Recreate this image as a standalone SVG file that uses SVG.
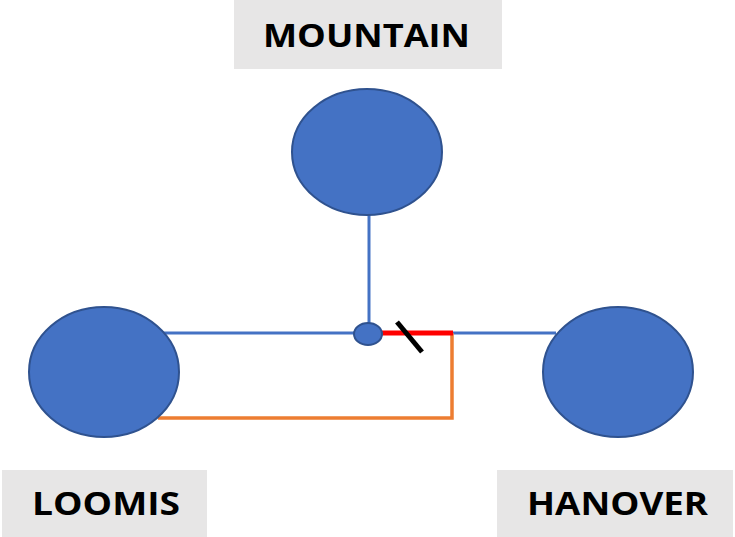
<svg xmlns="http://www.w3.org/2000/svg" width="735" height="537" viewBox="0 0 735 537">
<style>
.node{fill:#4472C4;stroke:#2F528F;stroke-width:2}
.lbl{fill:#E7E6E6}
.t{font-family:"Open Sans","Liberation Sans",sans-serif;font-weight:bold;font-size:33px;fill:#000}
.blue{stroke:#4472C4;stroke-width:3;fill:none}
</style>
<rect width="735" height="537" fill="#fff"/>
<g id="connectors">
<line class="blue" x1="369" y1="214" x2="369" y2="330"/>
<line class="blue" x1="160" y1="333" x2="556" y2="333"/>
<polyline points="452,333 452,418 158,418" fill="none" stroke="#ED7D31" stroke-width="3.5"/>
<line x1="380" y1="333" x2="453" y2="333" stroke="#FF0000" stroke-width="5"/>
<line x1="397" y1="322" x2="422" y2="352" stroke="#000" stroke-width="5"/>
</g>
<g id="mountain">
<rect class="lbl" x="234" y="0" width="268" height="69"/>
<text class="t" x="263" y="47" textLength="207" lengthAdjust="spacingAndGlyphs">MOUNTAIN</text>
<ellipse class="node" cx="367" cy="152" rx="75" ry="63"/>
</g>
<g id="junction">
<ellipse class="node" cx="368" cy="334" rx="14" ry="11"/>
</g>
<g id="loomis">
<ellipse class="node" cx="104" cy="372" rx="75" ry="65"/>
<rect class="lbl" x="2" y="470" width="205" height="67"/>
<text class="t" x="32" y="515" textLength="148" lengthAdjust="spacingAndGlyphs">LOOMIS</text>
</g>
<g id="hanover">
<ellipse class="node" cx="618" cy="372" rx="75" ry="65"/>
<rect class="lbl" x="497" y="470" width="236" height="67"/>
<text class="t" x="527" y="515" textLength="181" lengthAdjust="spacingAndGlyphs">HANOVER</text>
</g>
</svg>
